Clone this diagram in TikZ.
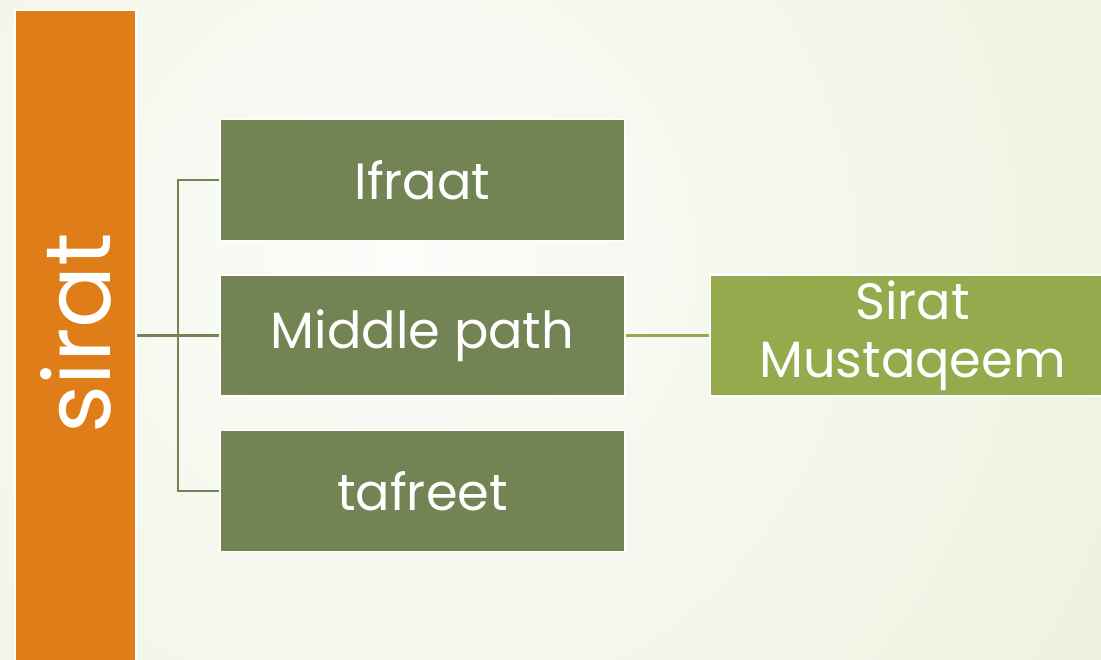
\documentclass[tikz,border=0pt]{standalone}
\usepackage{fontspec}
\setmainfont{Poppins}
\usepackage{xcolor}
\usepackage{tikz}
\definecolor{barorange}{HTML}{DF7E18}
\definecolor{leafgreen}{HTML}{728453}
\definecolor{pathgreen}{HTML}{94AA4C}
\definecolor{bgpale}{HTML}{FCFCFA}
\definecolor{bgtint}{HTML}{E2EBCC}
\tikzset{leafbox/.style={fill=leafgreen,draw=white,line width=1.5pt,
           minimum width=405pt,minimum height=121pt,text=white,
           font=\fontsize{51}{58}\selectfont},
         goalbox/.style={leafbox,fill=pathgreen,minimum width=405pt,
           align=center,font=\fontsize{51}{58}\selectfont},
         link/.style={draw=leafgreen,line width=2.2pt},
         goallink/.style={link,draw=pathgreen}}
\begin{document}
\begin{tikzpicture}[x=1pt,y=1pt]
\clip (0,0) rectangle (1101,659);
\shade[inner color=bgpale,outer color=bgtint] (-1000,-1000) rectangle (1800,1800);
\node[fill=barorange,draw=white,line width=2pt,minimum width=121pt,
      minimum height=660pt] (bar) at (75.5,319) {};
\node[rotate=90,text=white,font=\fontsize{92}{100}\selectfont] (sirat)
      at (bar.center |- 0,326) {sirat};
\node[leafbox] (ifraat) at (422.5,479) {Ifraat};
\node[leafbox] (middle) at (422.5,323.5) {Middle path};
\node[leafbox] (tafreet) at (422.5,168) {tafreet};
\node[goalbox] (goal) at (912.5,323.5) {Sirat\\Mustaqeem};
\coordinate (fork) at (178,323.5);
\draw[link] (bar.east |- middle.west) -- (middle.west);
\draw[link] (ifraat.west) -| (fork) |- (tafreet.west);
\draw[goallink] (middle.east) -- (goal.west);
\end{tikzpicture}
\end{document}
